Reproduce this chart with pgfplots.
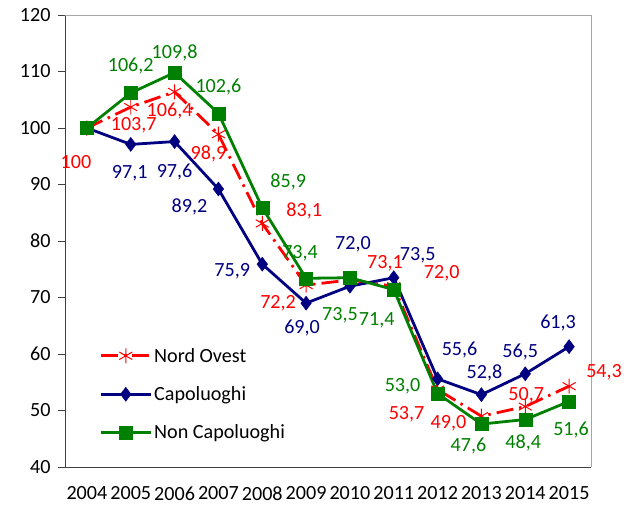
\documentclass[border=0pt]{standalone}
\usepackage{fontspec}
\setmainfont{Carlito}
\usepackage{pgfplots}
\pgfplotsset{compat=1.18}
\definecolor{cRed}{HTML}{FF0000}
\definecolor{cBlue}{HTML}{000080}
\definecolor{cGreen}{HTML}{008000}
\newcommand{\lblfont}{\fontsize{20.2}{24}\selectfont}

% x: category index, dx/dy: label offset in bp from the point
\pgfplotstableread{
x y dx dy lab
0 100.0 -11 -34 100
1 103.7 3 -18 103,7
2 106.4 -5 -19 106,4
3 98.9 -10 -20 98,9
4 83.1 42 13 83,1
5 72.2 -28 -18 72,2
6 73.1 35 17 73,1
7 72.0 48 13 72,0
8 53.7 -31 -25 53,7
9 49.0 -33 -7 49,0
10 50.7 1 11 50,7
11 54.3 35 14 54,3
}\tblNO
\pgfplotstableread{
x y dx dy lab
0 100.0 0 0 {}
1 97.1 -1 -29 97,1
2 97.6 0 -30 97,6
3 89.2 -29 -18 89,2
4 75.9 -30 -7 75,9
5 69.0 -4 -25 69,0
6 72.0 3 42 72,0
7 73.5 24 22 73,5
8 55.6 22 29 55,6
9 52.8 3 22 52,8
10 56.5 -5 22 56,5
11 61.3 -11 24 61,3
}\tblCap
\pgfplotstableread{
x y dx dy lab
0 100.0 0 0 {}
1 106.2 0 27 106,2
2 109.8 0 20 109,8
3 102.6 0 26 102,6
4 85.9 26 26 85,9
5 73.4 -6 25 73,4
6 73.5 -10 -38 73,5
7 71.4 -17 -31 71,4
8 53.0 -35 7 53,0
9 47.6 -13 -22 47,6
10 48.4 -2 -23 48,4
11 51.6 2 -29 51,6
}\tblNon

\pgfplotsset{
  lbl/.style={
    nodes near coords, point meta=explicit symbolic,
    visualization depends on={\thisrow{dx} \as \dx},
    visualization depends on={\thisrow{dy} \as \dy},
    every node near coord/.append style={anchor=center, inner sep=0pt,
      xshift=\dx bp, yshift=\dy bp, font=\lblfont, text=#1},
  },
}

\begin{document}
\begin{tikzpicture}
\useasboundingbox (-65bp,-42bp) rectangle (565bp,467bp);
\begin{axis}[
    at={(0,0)}, anchor=south west,
    scale only axis, width=526bp, height=452bp,
    xmin=-0.5, xmax=11.5, ymin=40, ymax=120,
    clip=false,
    axis lines=left, axis line style={black!75, line width=0.8pt, -},
    xtick={0,...,11},
    xticklabels={2004,2005,2006,2007,2008,2009,2010,2011,2012,2013,2014,2015},
    major x tick style={draw=none},
    extra x ticks={-0.5,0.5,...,11.5}, extra x tick labels={},
    extra x tick style={tick style={black!75, line width=0.8pt}, major tick length=7bp, tick align=outside},
    ytick={40,50,...,120},
    ytick style={black!75, line width=0.8pt},
    major tick length=7bp, tick align=outside,
    tick label style={font=\lblfont},
    /pgf/number format/assume math mode=true,
    xticklabel style={yshift=-9bp},
    yticklabel style={xshift=-4bp},
    legend style={draw=none, fill=none, font=\lblfont,
      at={(rel axis cs:0.065,0.268)}, anchor=north west,
      row sep=19bp, inner sep=0pt,
      nodes={inner sep=2bp}},
    legend cell align=left,
    legend image code/.code={\draw[mark repeat=2,mark phase=2] plot coordinates {(0bp,0bp) (25bp,0bp) (50bp,0bp)};},
]
\draw[gray!70, line width=0.8pt] (rel axis cs:0,1) -- (rel axis cs:1,1) -- (rel axis cs:1,0);
\addplot[cRed, line width=2.8pt, dash pattern=on 17bp off 6bp on 2.5bp off 6bp,
  mark=asterisk, mark size=7.5bp, mark options={solid, line width=1pt}, lbl=cRed]
  table[x=x, y=y, meta=lab] {\tblNO};
\addlegendentry{Nord Ovest}
\addplot[cBlue, line width=2.8pt, mark=diamond*, mark size=7bp,
  mark options={solid, line width=0.5pt}, lbl=cBlue]
  table[x=x, y=y, meta=lab] {\tblCap};
\addlegendentry{Capoluoghi}
\addplot[cGreen, line width=2.8pt, mark=square*, mark size=6.5bp,
  mark options={solid, line width=0.5pt}, lbl=cGreen]
  table[x=x, y=y, meta=lab] {\tblNon};
\addlegendentry{Non Capoluoghi}
\end{axis}
\end{tikzpicture}
\end{document}
